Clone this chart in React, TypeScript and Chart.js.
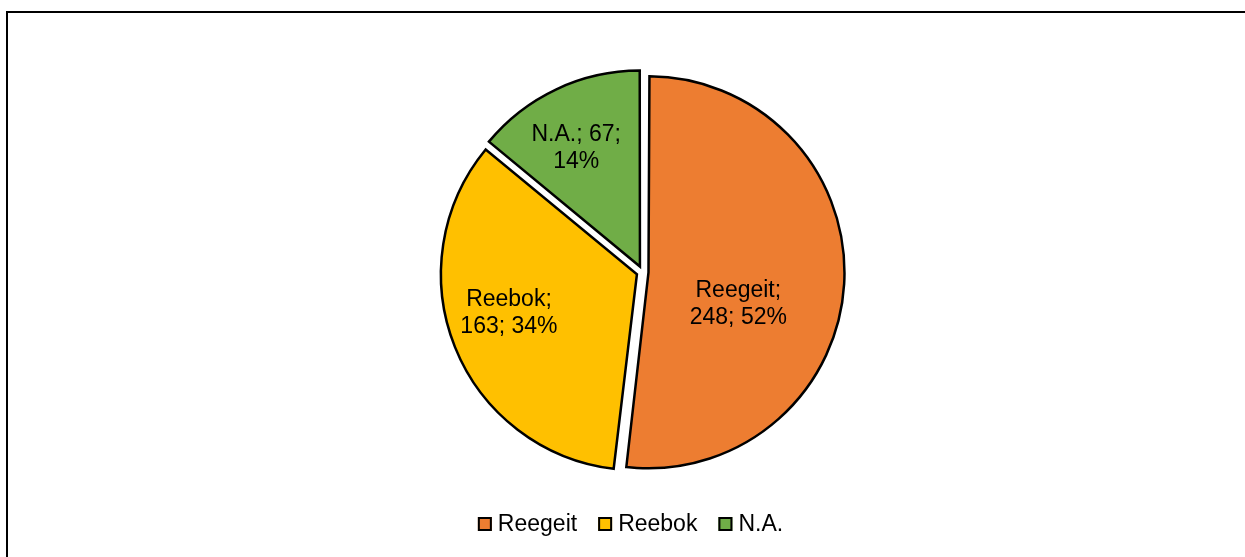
import React, { useEffect, useRef } from "react";
import { Chart, registerables } from "chart.js";

Chart.register(...registerables);

const categories = ["Reegeit", "Reebok", "N.A."];
const values = [248, 163, 67];
const colors = ["#ED7D31", "#FFC000", "#70AD47"];
// how many label tokens go on the first line for each slice
const firstLineTokens = [1, 1, 2];
// label nudges relative to the slice mid-point (px)
const labelNudges = [
  [-8, 26],
  [-37, 2],
  [-22, -30],
];

const PIE_RADIUS = 196;
const EXPLODE = 6; // visible translation of each slice in px
const FONT_FAMILY = "'Liberation Sans', Arial, sans-serif";
const FONT = `23px ${FONT_FAMILY}`;

const total = values.reduce((a, b) => a + b, 0);
const labelLines = categories.map((c, i) => {
  const tokens = [`${c};`, `${values[i]};`, `${Math.round((values[i] / total) * 100)}%`];
  const n = firstLineTokens[i];
  return [tokens.slice(0, n).join(" "), tokens.slice(n).join(" ")];
});

// Chart.js translates arcs by offset/4 and also enlarges them by offset/4*fix;
// undo the enlargement so every slice keeps the same radius.
const radiusFixPlugin = {
  id: "radiusFix",
  afterDatasetsUpdate(chart: any) {
    const meta = chart.getDatasetMeta(0);
    meta.data.forEach((arc: any) => {
      const circ = arc.endAngle - arc.startAngle;
      const fix = 1 - Math.sin(Math.min(Math.PI, circ));
      arc.outerRadius = PIE_RADIUS - EXPLODE * fix;
    });
  },
};

const sliceLabelPlugin = {
  id: "sliceLabels",
  afterDatasetsDraw(chart: any) {
    const ctx = chart.ctx;
    const meta = chart.getDatasetMeta(0);
    ctx.save();
    ctx.font = FONT;
    ctx.fillStyle = "#000";
    ctx.textAlign = "center";
    ctx.textBaseline = "middle";
    meta.data.forEach((arc: any, i: number) => {
      const { x, y, startAngle, endAngle } = arc;
      const mid = (startAngle + endAngle) / 2;
      const d = EXPLODE + PIE_RADIUS / 2;
      const cx = x + Math.cos(mid) * d + labelNudges[i][0];
      const cy = y + Math.sin(mid) * d + labelNudges[i][1];
      const lh = 27;
      const lines = labelLines[i];
      lines.forEach((ln, k) => {
        ctx.fillText(ln, cx, cy + (k - (lines.length - 1) / 2) * lh);
      });
    });
    ctx.restore();
  },
};

const legendPlugin = {
  id: "customLegend",
  afterDraw(chart: any) {
    const ctx = chart.ctx;
    ctx.save();
    ctx.font = FONT;
    const box = 14;
    const gap = 6;
    const itemGap = 21;
    const widths = categories.map((c) => ctx.measureText(c).width);
    const totalW =
      widths.reduce((a, w) => a + box + gap + w, 0) + itemGap * (categories.length - 1);
    let x = chart.width / 2 + 8 - totalW / 2;
    const cy = 524;
    ctx.textBaseline = "middle";
    ctx.textAlign = "left";
    categories.forEach((c, i) => {
      ctx.fillStyle = colors[i];
      ctx.fillRect(x, cy - box / 2, box, box);
      ctx.strokeStyle = "#000";
      ctx.lineWidth = 2;
      ctx.strokeRect(x + 1, cy - box / 2 + 1, box - 2, box - 2);
      ctx.fillStyle = "#000";
      ctx.fillText(c, x + box + gap, cy + 1);
      x += box + gap + widths[i] + itemGap;
    });
    ctx.restore();
  },
};

export default function App() {
  const ref = useRef<HTMLCanvasElement | null>(null);
  useEffect(() => {
    if (!ref.current) return;
    const chart = new Chart(ref.current, {
      type: "pie",
      data: {
        labels: categories,
        datasets: [
          {
            data: values,
            backgroundColor: colors,
            borderColor: "#000",
            borderWidth: 2.5,
            borderJoinStyle: "miter",
            offset: EXPLODE * 4,
            hoverOffset: 0,
            radius: PIE_RADIUS,
          } as any,
        ],
      },
      options: {
        responsive: false,
        animation: false,
        devicePixelRatio: 1,
        layout: { padding: { top: 60, bottom: 73, left: 40, right: 0 } },
        plugins: {
          legend: { display: false },
          tooltip: { enabled: false },
        },
      },
      plugins: [radiusFixPlugin, sliceLabelPlugin, legendPlugin],
    });
    return () => chart.destroy();
  }, []);

  return (
    <div
      style={{
        position: "fixed",
        left: 0,
        top: 0,
        width: 1245,
        height: 557,
        overflow: "hidden",
        background: "#fff",
      }}
    >
      <div
        style={{
          position: "absolute",
          left: 6,
          top: 11,
          width: 1400,
          height: 700,
          borderLeft: "2px solid #000",
          borderTop: "2px solid #000",
        }}
      />
      <canvas
        ref={ref}
        width={1245}
        height={557}
        style={{ position: "absolute", left: 0, top: 0, display: "block" }}
      />
    </div>
  );
}
